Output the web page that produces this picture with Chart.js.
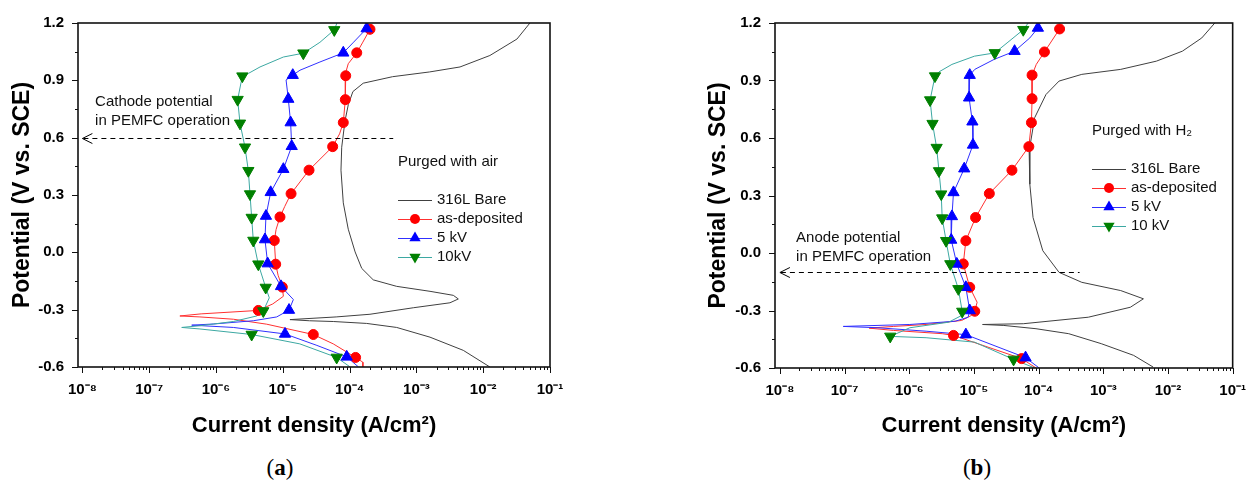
<!DOCTYPE html>
<html>
<head>
<meta charset="utf-8">
<script src="https://cdn.jsdelivr.net/npm/chart.js@4.4.1/dist/chart.umd.min.js"></script>
<style>
  html, body { margin: 0; padding: 0; background: #fff; width: 1260px; height: 484px; overflow: hidden; }
  canvas { position: absolute; top: 0; }
  #chartA { left: 0; }
  #chartB { left: 700px; }
  .cap { position: absolute; top: 455px; line-height: 26px; font-family: "Liberation Serif", "DejaVu Serif", serif; font-size: 23px; color: #000; transform: translateX(-50%); }
</style>
</head>
<body>
<canvas id="chartA" width="600" height="450"></canvas>
<canvas id="chartB" width="560" height="450"></canvas>
<div class="cap" style="left:280px">(<b>a</b>)</div>
<div class="cap" style="left:977px">(<b>b</b>)</div>
<script>
// axis ticks
const xTickValues = [1e-8, 1e-7, 1e-6, 1e-5, 1e-4, 1e-3, 1e-2, 1e-1];
const yTickValues = [-0.6, -0.3, 0.0, 0.3, 0.6, 0.9, 1.2];

// legend text
const legendA = ['316L Bare', 'as-deposited', '5 kV', '10kV'];
const legendB = ['316L Bare', 'as-deposited', '5 kV', '10 kV'];

// ---- (a) purged with air : potential (V) / current density (A/cm2) ----
const airBareE = [1.2, 1.116, 1.03, 0.97, 0.944, 0.919, 0.885, 0.841, 0.773, 0.687, 0.55, 0.43, 0.259, 0.121, 0.002, -0.084, -0.144, -0.178, -0.204, -0.225, -0.244, -0.264, -0.29, -0.324, -0.338, -0.352, -0.358, -0.362, -0.372, -0.393, -0.444, -0.513, -0.6];
const airBareI = [5.01e-2, 3.2e-2, 1.26e-2, 4.5e-3, 1.58e-3, 4.4e-4, 1.6e-4, 1.12e-4, 9.57e-5, 8.53e-5, 7.62e-5, 7.43e-5, 8.05e-5, 9.55e-5, 1.21e-4, 1.52e-4, 2.26e-4, 5.07e-4, 1.6e-3, 3.57e-3, 4.24e-3, 3.18e-3, 8.99e-4, 2.02e-4, 6.3e-5, 1.28e-5, 2.5e-5, 5.7e-5, 1.8e-4, 5.07e-4, 1.6e-3, 5.04e-3, 1.26e-2];

const airDepE = [1.167, 1.1, 1.044, 0.987, 0.95, 0.924, 0.799, 0.679, 0.62, 0.553, 0.43, 0.307, 0.24, 0.185, 0.12, 0.062, -0.062, -0.12, -0.182, -0.23, -0.27, -0.304, -0.322, -0.333, -0.338, -0.35, -0.376, -0.43, -0.479, -0.55, -0.575, -0.6];
const airDepI = [2.02e-4, 1.58e-4, 1.28e-4, 9.55e-5, 8.91e-5, 8.75e-5, 8.63e-5, 8.05e-5, 7.08e-5, 5.58e-5, 2.47e-5, 1.33e-5, 1.07e-5, 9.08e-6, 7.94e-6, 7.46e-6, 7.83e-6, 8.51e-6, 9.84e-6, 1.02e-5, 7.08e-6, 4.3e-6, 6e-7, 2.88e-7, 5.75e-7, 1.82e-6, 5.75e-6, 2.86e-5, 5.7e-5, 1.23e-4, 1.58e-4, 1.58e-4];
const airDepMarkE = [1.167, 1.044, 0.924, 0.799, 0.679, 0.553, 0.43, 0.307, 0.185, 0.062, -0.062, -0.182, -0.304, -0.43, -0.55];
const airDepMarkI = [2.02e-4, 1.28e-4, 8.75e-5, 8.63e-5, 8.05e-5, 5.58e-5, 2.47e-5, 1.33e-5, 9.08e-6, 7.46e-6, 7.83e-6, 9.84e-6, 4.3e-6, 2.86e-5, 1.23e-4];

const air5E = [1.2, 1.171, 1.1, 1.044, 0.996, 0.953, 0.927, 0.902, 0.802, 0.679, 0.555, 0.435, 0.314, 0.19, 0.067, -0.059, -0.178, -0.247, -0.302, -0.338, -0.358, -0.375, -0.381, -0.393, -0.427, -0.487, -0.547, -0.599];
const air5I = [1.95e-4, 1.8e-4, 1.15e-4, 8.05e-5, 3.6e-5, 1.81e-5, 1.41e-5, 1.12e-5, 1.21e-5, 1.31e-5, 1.36e-5, 1.02e-5, 6.59e-6, 5.6e-6, 5.41e-6, 5.94e-6, 9.4e-6, 1.44e-5, 1.24e-5, 8.11e-6, 3.62e-6, 9.12e-7, 4.33e-7, 1.82e-6, 1.08e-5, 3.24e-5, 9.06e-5, 1.35e-4];
const air5MarkE = [1.171, 1.044, 0.927, 0.802, 0.679, 0.555, 0.435, 0.314, 0.19, 0.067, -0.059, -0.178, -0.302, -0.427, -0.547];
const air5MarkI = [1.8e-4, 8.05e-5, 1.41e-5, 1.21e-5, 1.31e-5, 1.36e-5, 1.02e-5, 6.59e-6, 5.6e-6, 5.41e-6, 5.94e-6, 9.4e-6, 1.24e-5, 1.08e-5, 9.06e-5];

const air10E = [1.2, 1.164, 1.099, 1.042, 1.022, 0.97, 0.936, 0.922, 0.799, 0.675, 0.55, 0.427, 0.305, 0.182, 0.062, -0.062, -0.184, -0.238, -0.307, -0.333, -0.362, -0.384, -0.393, -0.401, -0.43, -0.479, -0.55, -0.599];
const air10I = [6.47e-5, 5.9e-5, 3.6e-5, 2.03e-5, 1.02e-5, 4.56e-6, 3.05e-6, 2.48e-6, 2.11e-6, 2.29e-6, 2.72e-6, 3.05e-6, 3.23e-6, 3.42e-6, 3.62e-6, 4.3e-6, 5.55e-6, 6.28e-6, 5.11e-6, 4.07e-6, 1.82e-6, 5.75e-7, 3.07e-7, 5.75e-7, 3.42e-6, 1.8e-5, 6.41e-5, 1.01e-4];
const air10MarkE = [1.164, 1.042, 0.922, 0.799, 0.675, 0.55, 0.427, 0.305, 0.182, 0.062, -0.062, -0.184, -0.307, -0.43, -0.55];
const air10MarkI = [5.9e-5, 2.03e-5, 2.48e-6, 2.11e-6, 2.29e-6, 2.72e-6, 3.05e-6, 3.23e-6, 3.42e-6, 3.62e-6, 4.3e-6, 5.55e-6, 5.11e-6, 3.42e-6, 6.41e-5];

// ---- (b) purged with H2 ----
const h2BareE = [1.2, 1.122, 1.053, 1.001, 0.958, 0.932, 0.897, 0.827, 0.706, 0.532, 0.359, 0.185, 0.012, -0.101, -0.153, -0.196, -0.239, -0.283, -0.335, -0.369, -0.373, -0.378, -0.395, -0.421, -0.473, -0.534, -0.595];
const h2BareI = [5.3e-2, 3.33e-2, 1.67e-2, 6.62e-3, 1.86e-3, 4.65e-4, 2.07e-4, 1.3e-4, 8.69e-5, 7.14e-5, 7.31e-5, 8.2e-5, 1.16e-4, 2.07e-4, 4.65e-4, 1.86e-3, 4.17e-3, 2.62e-3, 5.86e-4, 5.79e-5, 1.36e-5, 2.9e-5, 9.1e-5, 2.92e-4, 9.29e-4, 2.94e-3, 5.89e-3];

const h2DepE = [1.169, 1.049, 0.984, 0.928, 0.805, 0.68, 0.555, 0.432, 0.31, 0.185, 0.064, -0.057, -0.179, -0.257, -0.304, -0.326, -0.352, -0.373, -0.383, -0.392, -0.404, -0.421, -0.43, -0.551, -0.6];
const h2DepI = [2.11e-4, 1.23e-4, 9.2e-5, 7.92e-5, 7.92e-5, 7.74e-5, 7.06e-5, 3.87e-5, 1.73e-5, 1.06e-5, 7.5e-6, 6.84e-6, 8.61e-6, 1.12e-5, 1.03e-5, 9.12e-6, 6.46e-6, 1.82e-6, 5.75e-7, 2.4e-7, 5.71e-7, 3.24e-6, 4.83e-6, 5.47e-5, 9.12e-5];
const h2DepMarkE = [1.169, 1.049, 0.928, 0.805, 0.68, 0.555, 0.432, 0.31, 0.185, 0.064, -0.057, -0.179, -0.304, -0.43, -0.551];
const h2DepMarkI = [2.11e-4, 1.23e-4, 7.92e-5, 7.92e-5, 7.74e-5, 7.06e-5, 3.87e-5, 1.73e-5, 1.06e-5, 7.5e-6, 6.84e-6, 8.61e-6, 1.03e-5, 4.83e-6, 5.47e-5];

const h25E = [1.2, 1.174, 1.122, 1.053, 1.01, 0.958, 0.928, 0.81, 0.685, 0.564, 0.44, 0.316, 0.191, 0.068, -0.057, -0.179, -0.3, -0.335, -0.356, -0.373, -0.383, -0.39, -0.408, -0.426, -0.546, -0.6];
const h25I = [1.06e-4, 9.75e-5, 7.31e-5, 4.25e-5, 2.05e-5, 1.03e-5, 8.61e-6, 8.41e-6, 9.46e-6, 9.66e-6, 7.08e-6, 4.83e-6, 4.57e-6, 4.46e-6, 5.43e-6, 7.5e-6, 8.61e-6, 8.13e-6, 5.13e-6, 1.02e-6, 9.55e-8, 3.24e-7, 1.82e-6, 7.5e-6, 6.28e-5, 1.02e-4];
const h25MarkE = [1.174, 1.053, 0.928, 0.81, 0.685, 0.564, 0.44, 0.316, 0.191, 0.068, -0.057, -0.179, -0.3, -0.426, -0.546];
const h25MarkI = [9.75e-5, 4.25e-5, 8.61e-6, 8.41e-6, 9.46e-6, 9.66e-6, 7.08e-6, 4.83e-6, 4.57e-6, 4.46e-6, 5.43e-6, 7.5e-6, 8.61e-6, 7.5e-6, 6.28e-5];

const h210E = [1.2, 1.165, 1.096, 1.044, 1.027, 0.984, 0.945, 0.923, 0.798, 0.675, 0.55, 0.428, 0.307, 0.182, 0.064, -0.057, -0.187, -0.305, -0.326, -0.361, -0.39, -0.435, -0.442, -0.465, -0.555, -0.6];
const h210I = [6.9e-5, 5.79e-5, 3.25e-5, 2.1e-5, 1.02e-5, 4.57e-6, 2.88e-6, 2.5e-6, 2.1e-6, 2.29e-6, 2.65e-6, 2.88e-6, 3.12e-6, 3.23e-6, 3.71e-6, 4.31e-6, 5.74e-6, 6.59e-6, 6.46e-6, 4.07e-6, 1.02e-6, 5.08e-7, 1.82e-6, 1.02e-5, 4.1e-5, 8.7e-5];
const h210MarkE = [1.165, 1.044, 0.923, 0.798, 0.675, 0.55, 0.428, 0.307, 0.182, 0.064, -0.057, -0.187, -0.305, -0.435, -0.555];
const h210MarkI = [5.79e-5, 2.1e-5, 2.5e-6, 2.1e-6, 2.29e-6, 2.65e-6, 2.88e-6, 3.12e-6, 3.23e-6, 3.71e-6, 4.31e-6, 5.74e-6, 6.59e-6, 5.08e-7, 4.1e-5];

Chart.defaults.font.family = '"Liberation Sans", Arial, sans-serif';
Chart.defaults.color = '#000';

// line colour / marker for: bare, as-deposited, 5 kV, 10 kV
const STYLE = [
  { line: '#404040' },
  { line: '#ff3030', mark: '#ff0000', shape: 'circle', rot: 0, r: 5 },
  { line: '#3030ff', mark: '#0000ff', shape: 'triangle', rot: 0, r: 6.5 },
  { line: '#3ca8a2', mark: '#008000', shape: 'triangle', rot: 180, r: 6.5 }
];

const SUP = { '-': '\u207b', '0': '\u2070', '1': '\u00b9', '2': '\u00b2', '3': '\u00b3', '4': '\u2074', '5': '\u2075', '6': '\u2076', '7': '\u2077', '8': '\u2078', '9': '\u2079' };
const powLabel = v => '10' + String(Math.round(Math.log10(v))).split('').map(c => SUP[c]).join('');

const pts = (E, I) => E.map((e, k) => ({ x: I[k], y: e }));

function buildDatasets(series) {
  const marks = [], lines = [];
  series.forEach((s, k) => {
    const st = STYLE[k];
    lines.push({ data: pts(s[0], s[1]), showLine: true, borderColor: st.line, borderWidth: 1, pointRadius: 0, pointHoverRadius: 0 });
    if (s[2]) {
      marks.push({
        data: pts(s[2], s[3]), showLine: false,
        pointStyle: st.shape, pointRotation: st.rot, pointRadius: st.r, pointHoverRadius: st.r,
        pointBackgroundColor: st.mark, pointBorderColor: st.mark, pointBorderWidth: 1
      });
    }
  });
  // first dataset is drawn last (on top)
  return marks.reverse().concat(lines.reverse());
}

function drawMarker(ctx, st, x, y) {
  ctx.fillStyle = st.mark;
  ctx.beginPath();
  if (st.shape === 'circle') {
    ctx.arc(x, y, st.r, 0, Math.PI * 2);
  } else {
    const d = st.rot ? -1 : 1, r = st.r;
    ctx.moveTo(x, y - d * r);
    ctx.lineTo(x + r * 0.866, y + d * r * 0.5);
    ctx.lineTo(x - r * 0.866, y + d * r * 0.5);
    ctx.closePath();
  }
  ctx.fill();
}

// frame, minor ticks, dashed arrow, note text and legend
const decor = {
  id: 'decor',
  afterDraw(chart, args, o) {
    const { ctx, chartArea: a, scales: { x, y } } = chart;
    ctx.save();
    ctx.strokeStyle = '#111';
    ctx.lineWidth = 1;
    ctx.beginPath();
    yTickValues.forEach((v, k) => {
      const py = Math.round(y.getPixelForValue(v)) + 0.5;
      ctx.moveTo(a.left, py); ctx.lineTo(a.left - 6, py);
      if (k < yTickValues.length - 1) {
        const pm = Math.round(y.getPixelForValue((v + yTickValues[k + 1]) / 2)) + 0.5;
        ctx.moveTo(a.left, pm); ctx.lineTo(a.left - 3, pm);
      }
    });
    xTickValues.forEach(v => {
      const px = Math.round(x.getPixelForValue(v)) + 0.5;
      ctx.moveTo(px, a.bottom); ctx.lineTo(px, a.bottom + 6);
      for (let m = 2; m <= 9 && v < 0.1; m++) {
        const pm = Math.round(x.getPixelForValue(v * m)) + 0.5;
        ctx.moveTo(pm, a.bottom); ctx.lineTo(pm, a.bottom + 3);
      }
    });
    ctx.stroke();
    ctx.lineWidth = 1.6;
    ctx.strokeRect(a.left, a.top, a.right - a.left, a.bottom - a.top);

    // dashed arrow
    const ay = Math.round(y.getPixelForValue(o.arrow.y)) + 0.5;
    const x0 = x.getPixelForValue(o.arrow.from), x1 = x.getPixelForValue(o.arrow.to);
    ctx.lineWidth = 1;
    ctx.strokeStyle = '#000';
    ctx.setLineDash([5, 4]);
    ctx.beginPath(); ctx.moveTo(x0 + 1, ay); ctx.lineTo(x1, ay); ctx.stroke();
    ctx.setLineDash([]);
    ctx.beginPath();
    ctx.moveTo(x0 + 10, ay - 5); ctx.lineTo(x0, ay); ctx.lineTo(x0 + 10, ay + 5);
    ctx.stroke();

    // note
    ctx.fillStyle = '#111';
    ctx.font = '15px "Liberation Sans", Arial, sans-serif';
    ctx.textBaseline = 'middle';
    ctx.textAlign = 'left';
    const nx = x.getPixelForValue(o.note.x), ny = y.getPixelForValue(o.note.y);
    o.note.lines.forEach((t, k) => ctx.fillText(t, nx, ny + k * 19));

    // legend
    const lx = a.left + o.legend.dx, ly = a.top + o.legend.dy;
    ctx.fillText(o.legend.title, lx, ly);
    o.legend.labels.forEach((t, k) => {
      const st = STYLE[k], yy = ly + 38 + k * 19;
      ctx.strokeStyle = st.line;
      ctx.lineWidth = 1;
      ctx.beginPath(); ctx.moveTo(lx, yy + 0.5); ctx.lineTo(lx + 34, yy + 0.5); ctx.stroke();
      if (st.mark) drawMarker(ctx, st, lx + 17, yy);
      ctx.fillStyle = '#111';
      ctx.fillText(t, lx + 39, yy);
    });
    ctx.restore();
  }
};

function makeChart(id, c) {
  return new Chart(document.getElementById(id), {
    type: 'scatter',
    data: { datasets: buildDatasets(c.series) },
    options: {
      responsive: false,
      animation: false,
      events: [],
      layout: { padding: c.padding },
      plugins: { legend: { display: false }, tooltip: { enabled: false }, decor: c.decor },
      scales: {
        x: {
          type: 'logarithmic', min: c.xMin, max: 0.1,
          afterBuildTicks: s => { s.ticks = xTickValues.map(v => ({ value: v })); },
          afterFit: s => { s.height = c.xHeight; },
          grid: { display: false, drawTicks: false },
          border: { display: false },
          ticks: { autoSkip: false, maxRotation: 0, padding: 14, font: { size: 15, weight: 'bold' }, callback: v => powLabel(v) },
          title: { display: true, text: 'Current density (A/cm\u00b2)', font: { size: 22, weight: 'bold' }, padding: { top: 0, bottom: 11 } }
        },
        y: {
          type: 'linear', min: -0.6, max: 1.2,
          afterBuildTicks: s => { s.ticks = yTickValues.map(v => ({ value: v })); },
          afterFit: s => { s.width = c.yWidth; },
          grid: { display: false, drawTicks: false },
          border: { display: false },
          ticks: { padding: 14, font: { size: 15, weight: 'bold' }, callback: v => (Math.abs(v) < 1e-9 ? '0.0' : v.toFixed(1)) },
          title: { display: true, text: 'Potential (V vs. SCE)', font: { size: 23, weight: 'bold' }, padding: { top: c.yTitlePad, bottom: 0 } }
        }
      }
    },
    plugins: [decor]
  });
}

makeChart('chartA', {
  series: [
    [airBareE, airBareI],
    [airDepE, airDepI, airDepMarkE, airDepMarkI],
    [air5E, air5I, air5MarkE, air5MarkI],
    [air10E, air10I, air10MarkE, air10MarkI]
  ],
  padding: { top: 17, right: 50, bottom: 0, left: 0 },
  xMin: 8.6e-9, xHeight: 83, yWidth: 78, yTitlePad: 9,
  decor: {
    arrow: { y: 0.6, from: 1e-8, to: 4.5e-4 },
    note: { x: 1.55e-8, y: 0.788, lines: ['Cathode potential', 'in PEMFC operation'] },
    legend: { dx: 320, dy: 139, title: 'Purged with air', labels: legendA }
  }
});

makeChart('chartB', {
  series: [
    [h2BareE, h2BareI],
    [h2DepE, h2DepI, h2DepMarkE, h2DepMarkI],
    [h25E, h25I, h25MarkE, h25MarkI],
    [h210E, h210I, h210MarkE, h210MarkI]
  ],
  padding: { top: 22, right: 15, bottom: 0, left: 0 },
  xMin: 8.4e-9, xHeight: 82, yWidth: 75, yTitlePad: 5,
  decor: {
    arrow: { y: -0.1, from: 1e-8, to: 4.3e-4 },
    note: { x: 1.78e-8, y: 0.08, lines: ['Anode potential', 'in PEMFC operation'] },
    legend: { dx: 317, dy: 108, title: 'Purged with H\u2082', labels: legendB }
  }
});
</script>
</body>
</html>
